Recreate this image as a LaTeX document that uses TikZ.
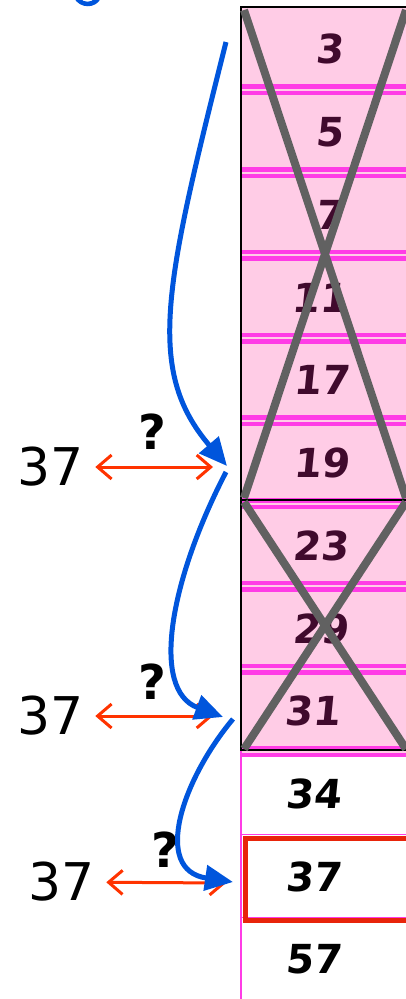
\documentclass[tikz,border=0pt]{standalone}
\usepackage{fontspec}
\setmainfont{DejaVu Sans}
\newfontfamily\cellfont[FakeSlant=0.1]{DejaVu Sans Bold}
\usetikzlibrary{arrows.meta}
\definecolor{cellpink}{RGB}{255,204,230}
\definecolor{rulemag}{RGB}{255,60,230}
\definecolor{numpurple}{RGB}{64,10,45}
\definecolor{crossgray}{RGB}{97,97,97}
\definecolor{jumpblue}{RGB}{0,85,220}
\definecolor{cmpred}{RGB}{255,51,0}
\definecolor{hitred}{RGB}{232,36,10}

\begin{document}
\begin{tikzpicture}[x=1pt,y=-1pt,
    cellnum/.style={font=\cellfont\fontsize{40}{42}\selectfont},
    keylabel/.style={font=\fontsize{52}{56}\selectfont, inner sep=11pt},
    qmark/.style={font=\fontsize{48}{50}\selectfont\bfseries},
    rowrule/.style={draw=rulemag, line width=4.5pt, double=cellpink, double distance=2pt},
    xline/.style={crossgray, line width=8pt},
    jump/.style={jumpblue, line width=5pt, -{Triangle[length=28pt,width=25pt]}},
    compare/.style={cmpred, line width=3pt,
      {Straight Barb[length=14pt,width=24pt]}-{Straight Barb[length=14pt,width=24pt]}}]
    \useasboundingbox (0,0) rectangle (406,999);
    \clip (0,0) rectangle (406,999);

    % pink block of crossed out cells
    \fill[cellpink] (241,7) rectangle (420,751.75);
    \foreach \k in {1,...,9} {
        \draw[rowrule] (241,{7+82.75*\k}) -- (420,{7+82.75*\k});
      }
    \foreach \k in {10,11} {
        \draw[rulemag, line width=1.5pt] (241,{7+82.75*\k}) -- (420,{7+82.75*\k});
      }
    \draw[line width=2.5pt] (241,751) -- (241,7) -- (420,7);
    \draw[line width=2.5pt] (241,500) -- (420,500);
    \draw[line width=2.5pt] (241,750) -- (420,750);
    \draw[rulemag, line width=1.5pt] (241,751) -- (241,999);

    % cell values
    \foreach \i/\n/\xc in {0/3/329,1/5/329,2/7/329,3/11/319,4/17/321,5/19/321,6/23/320,7/29/320,8/31/312} {
        \node[cellnum, numpurple] (c\n) at (\xc,{8+82.75*(\i+0.5)}) {\n};
      }
    \foreach \i/\n in {9/34,10/37,11/57} {
        \node[cellnum] (c\n) at (313,{8+82.75*(\i+0.5)}) {\n};
      }

    % crosses
    \draw[xline] (244,10) -- (406,498) (406,10) -- (244,498);
    \draw[xline] (244,502) -- (406,749) (406,502) -- (244,749);

    % found cell
    \draw[hitred, line width=5pt] (245.5,838.5) rectangle (430,920);

    % probes
    \node[keylabel] (k1) at (51,467) {37};
    \node[keylabel] (k2) at (51,716) {37};
    \node[keylabel] (k3) at (62,882) {37};
    \node[qmark] (m1) at (152,432) {?};
    \node[qmark] (m2) at (152,682) {?};
    \node[qmark] (m3) at (165,850) {?};
    \coordinate (h1) at (213,467);
    \coordinate (h2) at (213,716);
    \coordinate (h3) at (226,883);
    \draw[compare] (k1) -- (h1);
    \draw[compare] (k2) -- (h2);
    \draw[compare] (k3) -- (h3);

    % jumps
    \coordinate (s1) at (226,42);
    \coordinate (e1) at (227,466);
    \coordinate (s2) at (226,472);
    \coordinate (e2) at (223,717);
    \coordinate (s3) at (233,719);
    \coordinate (e3) at (233,882);
    \draw[jump] (s1) .. controls (165,285) and (145,370) .. (e1);
    \draw[jump] (s2) .. controls (170,580) and (150,690) .. (e2);
    \draw[jump] (s3) .. controls (182,780) and (152,870) .. (e3);

    % cut-off title stroke
    \fill[jumpblue] (74,-2) .. controls (80,9) and (96,9) .. (101,-2) -- (95,-2) .. controls (92,3) and (83,3) .. (80,-2) -- cycle;
  \end{tikzpicture}
\end{document}
